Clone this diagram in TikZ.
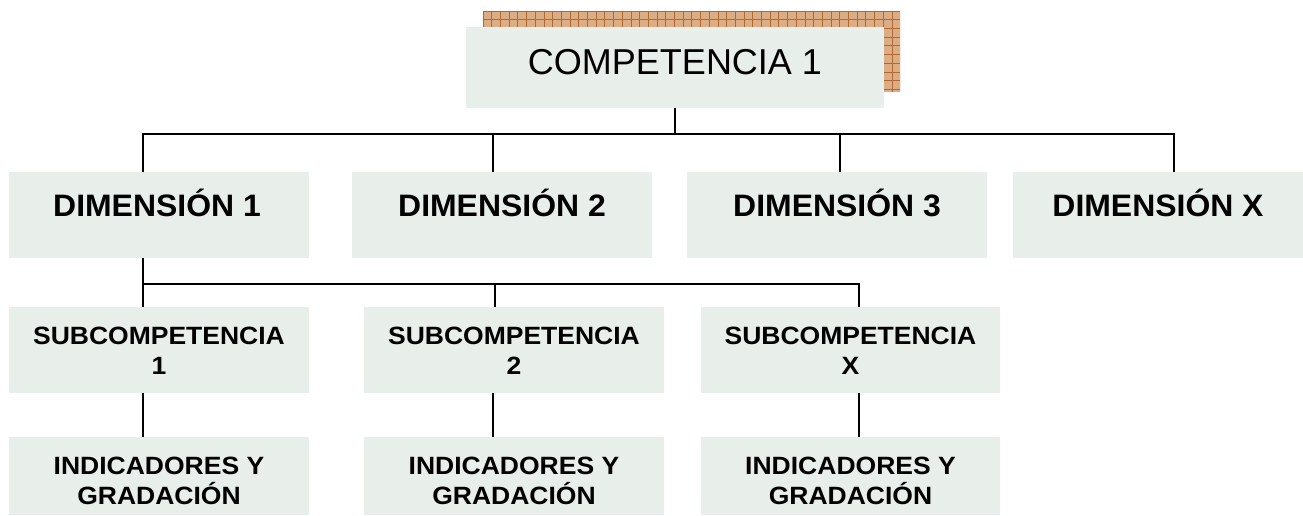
\documentclass[tikz,border=0pt]{standalone}
\usepackage{fontspec}
\setmainfont{Liberation Sans}
\newfontfamily\bfx{Liberation Sans Bold}[FakeStretch=1.06]
\newfontfamily\bfd{Liberation Sans Bold}[FakeStretch=1.03]
\definecolor{boxfill}{RGB}{232,238,234}
\definecolor{shadowfill}{RGB}{220,172,132}
\definecolor{shadowline}{RGB}{178,106,52}
\tikzset{
  box/.style={fill=boxfill, draw=none, inner sep=0pt, minimum height=86pt},
  conn/.style={draw=black, line width=1.8pt},
  comptext/.style={inner sep=0pt, anchor=base, font=\fontsize{36}{40}\selectfont},
  dimtext/.style={inner sep=0pt, anchor=base, font=\bfd\fontsize{31}{34}\selectfont},
  subtext/.style={inner sep=0pt, anchor=north, align=center, font=\bfx\fontsize{25}{29.5}\selectfont},
}
\begin{document}
\begin{tikzpicture}[x=1pt,y=-1pt]
\useasboundingbox (0,0) rectangle (1303,515);
% shadow of top box
\begin{scope}
  \clip (483,11) rectangle (900,92);
  \fill[shadowfill] (483,11) rectangle (900,92);
  \foreach \x in {483,491.7,...,905} \draw[shadowline, line width=0.7pt] (\x,11) -- (\x,92);
  \foreach \y in {11,19.7,...,95} \draw[shadowline, line width=0.7pt] (483,\y) -- (900,\y);
\end{scope}
% boxes
\node[box, minimum width=418pt, minimum height=81pt] (comp) at (675,67.5) {};
\node[box, minimum width=300pt] (d1) at (159,215) {};
\node[box, minimum width=300pt] (d2) at (502,215) {};
\node[box, minimum width=300pt] (d3) at (837,215) {};
\node[box, minimum width=290pt] (dx) at (1158,215) {};
\node[box, minimum width=300pt] (s1) at (159,350) {};
\node[box, minimum width=300pt] (s2) at (514,350) {};
\node[box, minimum width=299pt] (sx) at (850.5,350) {};
\node[box, minimum width=300pt, minimum height=78pt] (i1) at (159,476) {};
\node[box, minimum width=300pt, minimum height=78pt] (i2) at (514,476) {};
\node[box, minimum width=299pt, minimum height=78pt] (ix) at (850.5,476) {};
% texts
\node[comptext] (compt) at (675,74) {COMPETENCIA 1};
\node[dimtext] (d1t) at (157,216) {DIMENSIÓN 1};
\node[dimtext] (d2t) at (502,216) {DIMENSIÓN 2};
\node[dimtext] (d3t) at (837,216) {DIMENSIÓN 3};
\node[dimtext] (dxt) at (1158,216) {DIMENSIÓN X};
\node[subtext] (s1t) at (159,327) {SUBCOMPETENCIA\\1};
\node[subtext] (s2t) at (514,327) {SUBCOMPETENCIA\\2};
\node[subtext] (sxt) at (850.5,327) {SUBCOMPETENCIA\\X};
\node[subtext] (i1t) at (159,457) {INDICADORES Y\\GRADACIÓN};
\node[subtext] (i2t) at (514,457) {INDICADORES Y\\GRADACIÓN};
\node[subtext] (ixt) at (850.5,457) {INDICADORES Y\\GRADACIÓN};
% connectors
\coordinate (b1) at (675,134);
\coordinate (b2) at (143,284);
\draw[conn] (comp.south) -- (b1);
\draw[conn] ([xshift=-16pt]d1.north) |- (b1);
\draw[conn] ([xshift=-9pt]d2.north) |- (b1);
\draw[conn] ([xshift=3pt]d3.north) |- (b1);
\draw[conn] ([xshift=16pt]dx.north) |- (b1);
\draw[conn] ([xshift=-16pt]d1.south) -- (b2);
\draw[conn] ([xshift=-16pt]s1.north) -- (b2);
\draw[conn] ([xshift=-19pt]s2.north) |- (b2);
\draw[conn] ([xshift=8.5pt]sx.north) |- (b2);
\draw[conn] ([xshift=-16pt]s1.south) -- ([xshift=-16pt]i1.north);
\draw[conn] ([xshift=-21pt]s2.south) -- ([xshift=-21pt]i2.north);
\draw[conn] ([xshift=8.5pt]sx.south) -- ([xshift=8.5pt]ix.north);
\end{tikzpicture}
\end{document}
